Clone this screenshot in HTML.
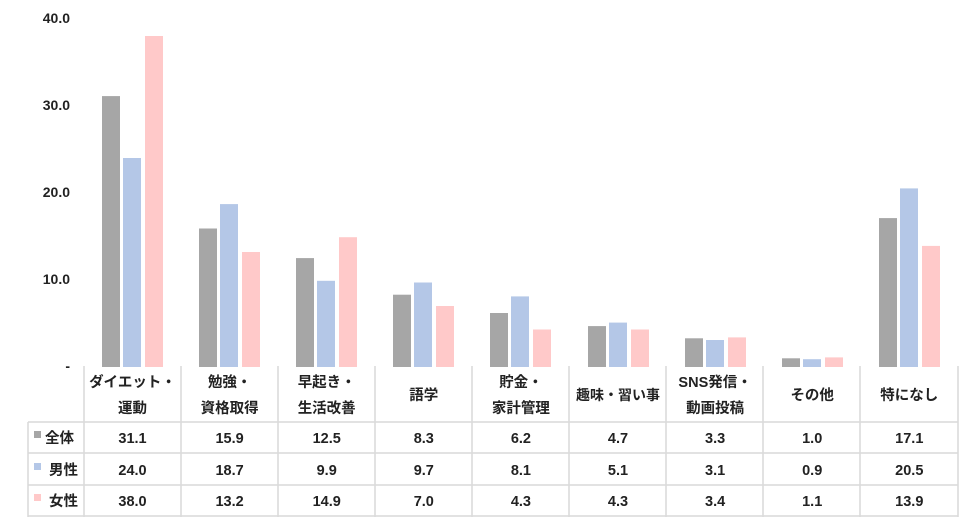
<!DOCTYPE html>
<html><head><meta charset="utf-8"><style>
body{margin:0;background:#fff;width:977px;height:525px;overflow:hidden}
svg text{font-family:"Liberation Sans","Noto Sans CJK JP",sans-serif;font-weight:bold;fill:#222}
</style></head><body>
<svg width="977" height="525" xmlns="http://www.w3.org/2000/svg">
<g font-size="14" text-anchor="end">
<text x="70" y="23">40.0</text>
<text x="70" y="110">30.0</text>
<text x="70" y="197">20.0</text>
<text x="70" y="284">10.0</text>
<text x="70" y="371">-</text>
</g>
<g>
<rect x="102" y="96.1" width="18" height="270.9" fill="#a6a6a6"/><rect x="123" y="158" width="18" height="209" fill="#b4c7e7"/><rect x="145" y="36" width="18" height="331" fill="#ffc9c9"/>
<rect x="199" y="228.5" width="18" height="138.5" fill="#a6a6a6"/><rect x="220" y="204.1" width="18" height="162.9" fill="#b4c7e7"/><rect x="242" y="252" width="18" height="115" fill="#ffc9c9"/>
<rect x="296" y="258.1" width="18" height="108.9" fill="#a6a6a6"/><rect x="317" y="280.8" width="18" height="86.2" fill="#b4c7e7"/><rect x="339" y="237.2" width="18" height="129.8" fill="#ffc9c9"/>
<rect x="393" y="294.7" width="18" height="72.3" fill="#a6a6a6"/><rect x="414" y="282.5" width="18" height="84.5" fill="#b4c7e7"/><rect x="436" y="306" width="18" height="61" fill="#ffc9c9"/>
<rect x="490" y="313" width="18" height="54" fill="#a6a6a6"/><rect x="511" y="296.4" width="18" height="70.6" fill="#b4c7e7"/><rect x="533" y="329.5" width="18" height="37.5" fill="#ffc9c9"/>
<rect x="588" y="326.1" width="18" height="40.9" fill="#a6a6a6"/><rect x="609" y="322.6" width="18" height="44.4" fill="#b4c7e7"/><rect x="631" y="329.5" width="18" height="37.5" fill="#ffc9c9"/>
<rect x="685" y="338.3" width="18" height="28.7" fill="#a6a6a6"/><rect x="706" y="340" width="18" height="27" fill="#b4c7e7"/><rect x="728" y="337.4" width="18" height="29.6" fill="#ffc9c9"/>
<rect x="782" y="358.3" width="18" height="8.7" fill="#a6a6a6"/><rect x="803" y="359.2" width="18" height="7.8" fill="#b4c7e7"/><rect x="825" y="357.4" width="18" height="9.6" fill="#ffc9c9"/>
<rect x="879" y="218.1" width="18" height="148.9" fill="#a6a6a6"/><rect x="900" y="188.4" width="18" height="178.6" fill="#b4c7e7"/><rect x="922" y="245.9" width="18" height="121.1" fill="#ffc9c9"/>
</g>
<g stroke="#d9d9d9" stroke-width="1.5" fill="none">
<path d="M84 366V517M181 366V517M278 366V517M375 366V517M472 366V517M569 366V517M666 366V517M763 366V517M860 366V517M958 366V517"/>
<path d="M28 422H958M28 453H958M28 485H958M28 516H958M28 422V517"/>
</g>
<g font-size="14.5" text-anchor="middle">
<text x="132.5" y="387">ダイエット・</text><text x="132.5" y="413">運動</text>
<text x="229.6" y="387">勉強・</text><text x="229.6" y="413">資格取得</text>
<text x="326.7" y="387">早起き・</text><text x="326.7" y="413">生活改善</text>
<text x="423.8" y="400">語学</text>
<text x="520.9" y="387">貯金・</text><text x="520.9" y="413">家計管理</text>
<text x="618" y="400" font-size="14">趣味・習い事</text>
<text x="715.1" y="387">SNS発信・</text><text x="715.1" y="413">動画投稿</text>
<text x="812.2" y="400">その他</text>
<text x="909.3" y="400">特になし</text>

<text x="132.5" y="443">31.1</text><text x="229.6" y="443">15.9</text><text x="326.7" y="443">12.5</text><text x="423.8" y="443">8.3</text><text x="520.9" y="443">6.2</text><text x="618" y="443">4.7</text><text x="715.1" y="443">3.3</text><text x="812.2" y="443">1.0</text><text x="909.3" y="443">17.1</text>
<text x="132.5" y="475">24.0</text><text x="229.6" y="475">18.7</text><text x="326.7" y="475">9.9</text><text x="423.8" y="475">9.7</text><text x="520.9" y="475">8.1</text><text x="618" y="475">5.1</text><text x="715.1" y="475">3.1</text><text x="812.2" y="475">0.9</text><text x="909.3" y="475">20.5</text>
<text x="132.5" y="506">38.0</text><text x="229.6" y="506">13.2</text><text x="326.7" y="506">14.9</text><text x="423.8" y="506">7.0</text><text x="520.9" y="506">4.3</text><text x="618" y="506">4.3</text><text x="715.1" y="506">3.4</text><text x="812.2" y="506">1.1</text><text x="909.3" y="506">13.9</text>
</g>
<rect x="34" y="431" width="7" height="7" fill="#a6a6a6"/>
<rect x="34" y="463" width="7" height="7" fill="#b4c7e7"/>
<rect x="34" y="494" width="7" height="7" fill="#ffc9c9"/>
<g font-size="14.5"><text x="45" y="443">全体</text><text x="49" y="475">男性</text><text x="49" y="506">女性</text></g>
</svg>
</body></html>
